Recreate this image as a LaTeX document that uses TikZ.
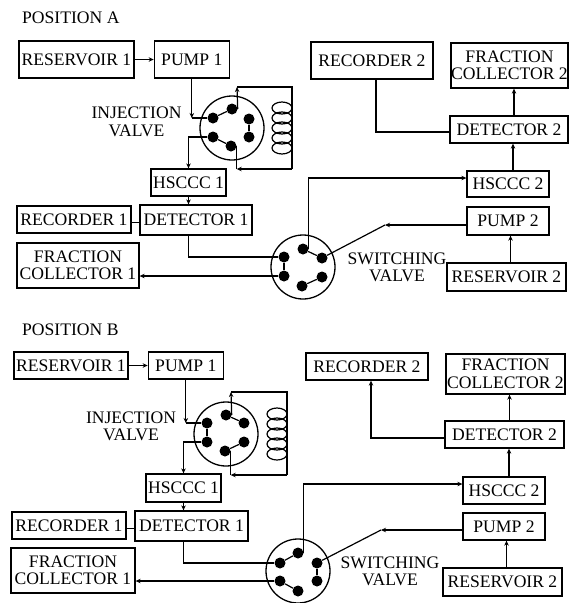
\documentclass[tikz,border=0pt]{standalone}
\usepackage{fontspec}
\setmainfont{Liberation Serif}
\usetikzlibrary{shapes.geometric, arrows.meta, positioning}

\tikzset{
    blockbox/.style={draw, rectangle, line width=1.3pt, inner sep=0pt, align=center},
    valvebody/.style={draw, circle, line width=1.3pt, minimum size=64pt, inner sep=0pt},
    port/.style={circle, fill=black, minimum size=11pt, inner sep=0pt},
    coilturn/.style={draw, ellipse, line width=1.2pt, minimum width=20pt, minimum height=12pt, inner sep=0pt},
    pipe/.style={line width=1.2pt},
    flow/.style={line width=1.2pt, -{Stealth[length=5pt, width=4.5pt]}},
    caption/.style={align=center, inner sep=0pt}
}

\begin{document}
\begin{tikzpicture}[x=1pt, y=-1pt, font=\fontsize{17.6}{17.5}\selectfont]
    \useasboundingbox (0,0) rectangle (569,603);

    % position A
    \node (titleA) [caption, anchor=west] at (22,18) {POSITION A};
    \node (resA) [blockbox, minimum width=115pt, minimum height=37pt] at (76.5,59.5) {RESERVOIR 1};
    \node (pumpA) [blockbox, right=19pt of resA, minimum width=75pt, minimum height=37pt] {PUMP 1};
    \node (hscA) [blockbox, minimum width=75pt, minimum height=27pt] at (188.5,182.5) {HSCCC 1};
    \node (detA) [blockbox, minimum width=112pt, minimum height=30pt] at (196,220) {DETECTOR 1};
    \node (recA) [blockbox, minimum width=114pt, minimum height=27pt] at (74,219.5) {RECORDER 1};
    \node (fcA) [blockbox, minimum width=122pt, minimum height=45pt] at (78,265.5) {FRACTION\\COLLECTOR 1};
    \node (rec2A) [blockbox, minimum width=122pt, minimum height=37pt] at (372,60.5) {RECORDER 2};
    \node (fc2A) [blockbox, minimum width=117pt, minimum height=45pt] at (509.5,65.5) {FRACTION\\COLLECTOR 2};
    \node (det2A) [blockbox, minimum width=118pt, minimum height=27pt] at (509,129.5) {DETECTOR 2};
    \node (hs2A) [blockbox, minimum width=82pt, minimum height=26pt] at (508,184) {HSCCC 2};
    \node (pu2A) [blockbox, minimum width=82pt, minimum height=28pt] at (508,221) {PUMP 2};
    \node (re2A) [blockbox, minimum width=119pt, minimum height=28pt] at (506.5,277) {RESERVOIR 2};
    \node (ivtextA) [caption] at (136.5,122) {INJECTION\\VALVE};
    \node (svtextA) [caption] at (397,267.5) {SWITCHING\\VALVE};

    \node (ivA) [valvebody] at (232,128) {};
    \foreach \p/\x/\y in {1/213/118, 2/232/109, 3/249/119, 4/249/137, 5/231/146, 6/213/137}
        \node (ia\p) [port] at (\x,\y) {};
    \node (svA) [valvebody] at (303,267) {};
    \foreach \p/\x/\y in {1/284/257, 2/284/276, 3/302/286, 4/322/277, 5/322/258, 6/303/249}
        \node (sa\p) [port] at (\x,\y) {};
    \foreach \i in {0,...,4}
        \node (coilA\i) [coilturn] at (282,{108+10*\i}) {};
    \coordinate (loopA) at (237,87);
    \coordinate (backA) at (292,169);
    \coordinate (kneeA) at (385,225);

    \draw [flow] (resA) -- (pumpA);
    \draw [flow] (pumpA.south) -- (pumpA.south |- ia1);
    \draw [pipe] (pumpA.south |- ia1) -- (ia1);
    \draw [pipe] (ia1) -- (ia2);
    \draw [pipe] (ia3) -- (ia4);
    \draw [pipe] (ia5) -- (ia6);
    \draw [flow] (ia2.east) -- (loopA);
    \draw [pipe] (loopA) -| (backA);
    \draw [flow] (backA) -- (backA -| ia5.east);
    \draw [pipe] (backA -| ia5.east) -- (ia5.east);
    \draw [flow] (ia6) -| (hscA.north);
    \draw [flow] (hscA.south) -- (hscA.south |- detA.north);
    \draw [pipe] ([yshift=-3pt]recA.east) -- ([yshift=-3pt]recA.east -| detA.west);
    \draw [pipe] (hscA.south |- detA.south) |- (sa1);
    \draw [flow] (sa2) -- (sa2 -| fcA.east);
    \draw [pipe] (sa1) -- (sa2);
    \draw [pipe] (sa3) -- (sa4);
    \draw [pipe] (sa5) -- (sa6);
    \draw [flow] (sa6.east) |- ([yshift=6pt]hs2A.west);
    \draw [flow] ([yshift=-4pt]pu2A.west) -- (kneeA);
    \draw [pipe] (kneeA) -- (sa5);
    \draw [flow] ([xshift=4pt]re2A.north) -- ([xshift=4pt]re2A.north |- pu2A.south);
    \draw [flow] ([xshift=5pt]hs2A.north) -- ([xshift=5pt]hs2A.north |- det2A.south);
    \draw [flow] ([xshift=5pt]det2A.north) -- ([xshift=5pt]det2A.north |- fc2A.south);
    \draw [pipe] ([yshift=-2.5pt]det2A.west) -| ([xshift=4pt]rec2A.south);

    % position B
    \node (titleB) [caption, anchor=west] at (22,330) {POSITION B};
    \node (resB) [blockbox, minimum width=114pt, minimum height=27pt] at (71,365.5) {RESERVOIR 1};
    \node (pumpB) [blockbox, right=19pt of resB, minimum width=75pt, minimum height=27pt] {PUMP 1};
    \node (hscB) [blockbox, minimum width=75pt, minimum height=28pt] at (183.5,488) {HSCCC 1};
    \node (detB) [blockbox, minimum width=113pt, minimum height=30pt] at (191.5,526) {DETECTOR 1};
    \node (recB) [blockbox, minimum width=114pt, minimum height=27pt] at (69,525.5) {RECORDER 1};
    \node (fcB) [blockbox, minimum width=124pt, minimum height=45pt] at (73,570.5) {FRACTION\\COLLECTOR 1};
    \node (rec2B) [blockbox, minimum width=122pt, minimum height=27pt] at (367,366.5) {RECORDER 2};
    \node (fc2B) [blockbox, minimum width=119pt, minimum height=40pt] at (505.5,374) {FRACTION\\COLLECTOR 2};
    \node (det2B) [blockbox, minimum width=119pt, minimum height=27pt] at (504.5,434.5) {DETECTOR 2};
    \node (hs2B) [blockbox, minimum width=82pt, minimum height=27pt] at (504,490.5) {HSCCC 2};
    \node (pu2B) [blockbox, minimum width=82pt, minimum height=27pt] at (504,526.5) {PUMP 2};
    \node (re2B) [blockbox, minimum width=119pt, minimum height=28pt] at (502.5,582) {RESERVOIR 2};
    \node (ivtextB) [caption] at (131,426.5) {INJECTION\\VALVE};
    \node (svtextB) [caption] at (390,571.5) {SWITCHING\\VALVE};

    \node (ivB) [valvebody] at (226,434) {};
    \foreach \p/\x/\y in {1/207/423, 2/226/415, 3/244/423, 4/244/442, 5/225/451, 6/207/442}
        \node (ib\p) [port] at (\x,\y) {};
    \node (svB) [valvebody] at (298,571) {};
    \foreach \p/\x/\y in {1/280/563, 2/280/581, 3/298/591, 4/317/581, 5/317/563, 6/298/553}
        \node (sb\p) [port] at (\x,\y) {};
    \foreach \i in {0,...,4}
        \node (coilB\i) [coilturn] at (277,{414+10*\i}) {};
    \coordinate (loopB) at (231,392);
    \coordinate (backB) at (287,475);
    \coordinate (kneeB) at (381,530);

    \draw [flow] (resB) -- (pumpB);
    \draw [flow] (pumpB.south) -- (pumpB.south |- ib1);
    \draw [pipe] (pumpB.south |- ib1) -- (ib1);
    \draw [pipe] (ib1) -- (ib6);
    \draw [pipe] (ib2) -- (ib3);
    \draw [pipe] (ib4) -- (ib5);
    \draw [flow] (ib2.east) -- (loopB);
    \draw [pipe] (loopB) -| (backB);
    \draw [flow] (backB) -- (backB -| ib5.east);
    \draw [pipe] (backB -| ib5.east) -- (ib5.east);
    \draw [flow] (ib6) -| (hscB.north);
    \draw [flow] (hscB.south) -- (hscB.south |- detB.north);
    \draw [pipe] ([yshift=-3pt]recB.east) -- ([yshift=-3pt]recB.east -| detB.west);
    \draw [pipe] (hscB.south |- detB.south) |- (sb1);
    \draw [flow] (sb2) -- (sb2 -| fcB.east);
    \draw [pipe] (sb1) -- (sb6);
    \draw [pipe] (sb2) -- (sb3);
    \draw [pipe] (sb4) -- (sb5);
    \draw [flow] (sb6.east) |- ([yshift=6.5pt]hs2B.west);
    \draw [flow] ([yshift=-3.5pt]pu2B.west) -- (kneeB);
    \draw [pipe] (kneeB) -- (sb5);
    \draw [flow] ([xshift=4pt]re2B.north) -- ([xshift=4pt]re2B.north |- pu2B.south);
    \draw [flow] ([xshift=5pt]hs2B.north) -- ([xshift=5pt]hs2B.north |- det2B.south);
    \draw [flow] ([xshift=5pt]det2B.north) -- ([xshift=5pt]det2B.north |- fc2B.south);
    \draw [flow] ([yshift=-3.5pt]det2B.west) -| ([xshift=4pt]rec2B.south);
\end{tikzpicture}
\end{document}
